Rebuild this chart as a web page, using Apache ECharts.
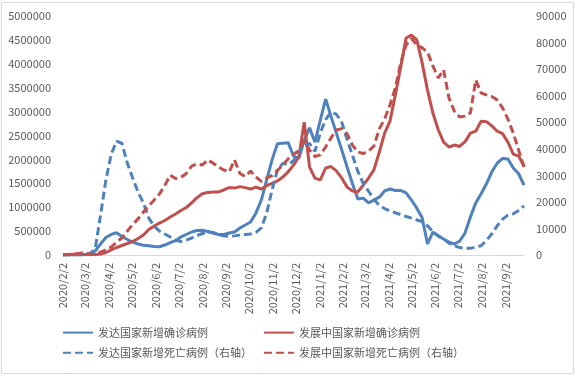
<!DOCTYPE html>
<html>
<head>
<meta charset="utf-8">
<script src="https://cdn.jsdelivr.net/npm/echarts@6/dist/echarts.min.js"></script>
<style>
html,body{margin:0;padding:0;background:#fff;}
#chart{width:578px;height:378px;}
</style>
</head>
<body>
<div id="chart"></div>
<script>
// Weekly series, first week 2020/2/2, 87 weeks
const developedCases = [0,0,0,2000,5000,15000,84000,230000,366000,430000,466000,387000,324000,272000,230000,205000,192000,178000,172000,209000,257000,303000,377000,429000,481000,512000,517000,492000,460000,429000,429000,460000,481000,565000,628000,690000,880000,1150000,1570000,1990000,2330000,2340000,2350000,2070000,2020000,2400000,2660000,2360000,2820000,3260000,2900000,2550000,2200000,1840000,1490000,1170000,1190000,1090000,1150000,1210000,1340000,1380000,1350000,1350000,1300000,1150000,980000,780000,230000,480000,400000,335000,270000,230000,290000,460000,795000,1090000,1280000,1490000,1740000,1920000,2020000,2010000,1820000,1700000,1460000];
const developingCases = [5000,10000,15000,20000,10000,5000,8000,20000,52000,105000,157000,199000,240000,282000,345000,418000,533000,607000,669000,722000,795000,858000,931000,994000,1090000,1200000,1280000,1310000,1320000,1320000,1360000,1410000,1400000,1430000,1410000,1380000,1420000,1380000,1450000,1500000,1550000,1630000,1740000,1880000,2050000,2780000,1840000,1610000,1570000,1820000,1850000,1760000,1610000,1420000,1340000,1320000,1460000,1610000,1780000,2150000,2550000,2800000,3350000,3930000,4540000,4600000,4500000,4020000,3450000,2970000,2620000,2360000,2260000,2300000,2270000,2370000,2550000,2590000,2800000,2790000,2700000,2590000,2540000,2360000,2110000,2070000,1860000];
const developedDeaths = [0,0,0,50,100,500,2300,15000,28200,38000,42900,42000,34600,29000,23700,19600,13900,10900,9000,7900,6800,5600,5100,5600,6400,7300,8100,8700,8500,7700,7200,7000,7200,7500,7700,7900,8500,10200,15800,24500,32000,34500,34000,35500,38500,41500,42000,39000,46000,51000,53800,53000,50000,43500,37500,31500,27000,24000,21000,18700,17500,16600,15900,15200,14500,13900,13200,12600,11000,8800,7200,6000,4500,3500,2800,2500,2500,3000,3500,5500,8000,11000,13500,15000,15500,16800,18500];
const developingDeaths = [0,200,300,600,900,300,300,1100,1900,3000,4900,6400,9000,11500,13600,16200,18500,20700,23000,26200,30100,28800,29200,30700,33500,34300,33900,35800,34600,33100,32000,31300,35800,30700,29600,31600,29400,27700,29000,29900,31800,33900,36200,38000,39200,42900,39500,37100,37700,40700,44100,47100,47600,45600,41400,38800,38200,39200,41000,47500,51200,56500,62900,72300,79100,81500,79100,78000,76400,71200,66700,69700,59100,54200,52000,52300,53500,65900,61000,60300,59700,58400,55400,51200,45900,39500,33100];
const seriesNames = ['发达国家新增确诊病例','发展中国家新增确诊病例','发达国家新增死亡病例（右轴）','发展中国家新增死亡病例（右轴）'];
const startDate = [2020, 2, 2];
const weekCount = 87;

// daily categories (axis), labels shown on the 2nd of each month
const days = [];
for (let d = 0; d <= (weekCount - 1) * 7; d++) {
  const dt = new Date(startDate[0], startDate[1] - 1, startDate[2] + d);
  days.push(dt.getFullYear() + '/' + (dt.getMonth() + 1) + '/' + dt.getDate());
}
const weekly = arr => arr.map((v, i) => [i * 7, v]);

const FONT = '"Noto Sans CJK SC", "Noto Sans", sans-serif';
const TXT = '#595959';
const BLUE = '#4F81BD', RED = '#C0504D';

const legendBase = {
  orient: 'vertical', top: 327, padding: 0,
  itemWidth: 30, itemHeight: 14, itemGap: 9,
  itemStyle: {opacity: 0, borderWidth: 0},
  textStyle: {color: TXT, fontSize: 11, fontFamily: FONT}
};

const chart = echarts.init(document.getElementById('chart'), null, {renderer: 'canvas'});
chart.setOption({
  animation: false,
  backgroundColor: '#fff',
  textStyle: {fontFamily: FONT},
  graphic: [{type: 'rect', shape: {x: 1.5, y: 2.5, width: 572, height: 371}, style: {fill: 'none', stroke: '#D9D9D9', lineWidth: 1}, silent: true}],
  grid: {left: 63, right: 54, top: 16, bottom: 123},
  legend: [
    Object.assign({data: [seriesNames[0], seriesNames[2]], left: 62}, legendBase),
    Object.assign({data: [seriesNames[1], seriesNames[3]], left: 263}, legendBase)
  ],
  xAxis: {
    type: 'category', data: days, boundaryGap: false,
    axisLine: {lineStyle: {color: '#D9D9D9'}},
    axisTick: {show: false},
    axisLabel: {
      rotate: 90, margin: 8, color: TXT, fontSize: 11, fontFamily: FONT,
      interval: (idx, val) => val.split('/')[2] === '2'
    },
    splitLine: {show: false}
  },
  yAxis: [
    {type: 'value', min: 0, max: 5000000, interval: 500000,
     axisLine: {show: false}, axisTick: {show: false}, splitLine: {show: false},
     axisLabel: {color: TXT, fontSize: 11, margin: 12, fontFamily: FONT, formatter: v => String(v)}},
    {type: 'value', min: 0, max: 90000, interval: 10000, position: 'right',
     axisLine: {show: false}, axisTick: {show: false}, splitLine: {show: false},
     axisLabel: {color: TXT, fontSize: 11, margin: 12, fontFamily: FONT, formatter: v => String(v)}}
  ],
  series: [
    {name: seriesNames[0], type: 'line', yAxisIndex: 0, data: weekly(developedCases), symbol: 'none',
     itemStyle: {color: BLUE}, lineStyle: {color: BLUE, width: 3}},
    {name: seriesNames[1], type: 'line', yAxisIndex: 0, data: weekly(developingCases), symbol: 'none',
     itemStyle: {color: RED}, lineStyle: {color: RED, width: 3}},
    {name: seriesNames[2], type: 'line', yAxisIndex: 1, data: weekly(developedDeaths), symbol: 'none',
     itemStyle: {color: BLUE}, lineStyle: {color: BLUE, width: 3, type: [8, 4]}},
    {name: seriesNames[3], type: 'line', yAxisIndex: 1, data: weekly(developingDeaths), symbol: 'none',
     itemStyle: {color: RED}, lineStyle: {color: RED, width: 3, type: [8, 4]}}
  ]
});
</script>
</body>
</html>
